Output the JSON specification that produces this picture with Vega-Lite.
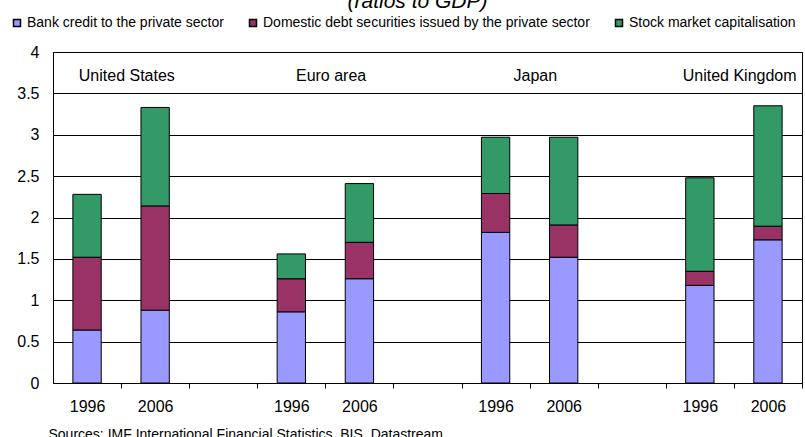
{
  "$schema": "https://vega.github.io/schema/vega-lite/v6.json",
  "width": 749,
  "height": 331,
  "autosize": {"type": "none"},
  "padding": {"left": 53, "top": 52, "right": 3, "bottom": 54},
  "background": "white",
  "config": {
    "font": "Liberation Sans",
    "view": {"stroke": "black", "strokeWidth": 1}
  },
  "title": {
    "text": "(ratios to GDP)",
    "fontStyle": "italic",
    "fontWeight": "normal",
    "fontSize": 21,
    "color": "black",
    "dx": -10
  },
  "layer": [
    {
      "data": {
        "values": [
          {"slot": "US 1996", "series": "Bank credit to the private sector", "k": 0, "value": 0.64},
          {"slot": "US 1996", "series": "Domestic debt securities issued by the private sector", "k": 1, "value": 0.88},
          {"slot": "US 1996", "series": "Stock market capitalisation", "k": 2, "value": 0.76},
          {"slot": "US 2006", "series": "Bank credit to the private sector", "k": 0, "value": 0.88},
          {"slot": "US 2006", "series": "Domestic debt securities issued by the private sector", "k": 1, "value": 1.26},
          {"slot": "US 2006", "series": "Stock market capitalisation", "k": 2, "value": 1.19},
          {"slot": "EA 1996", "series": "Bank credit to the private sector", "k": 0, "value": 0.86},
          {"slot": "EA 1996", "series": "Domestic debt securities issued by the private sector", "k": 1, "value": 0.40},
          {"slot": "EA 1996", "series": "Stock market capitalisation", "k": 2, "value": 0.30},
          {"slot": "EA 2006", "series": "Bank credit to the private sector", "k": 0, "value": 1.26},
          {"slot": "EA 2006", "series": "Domestic debt securities issued by the private sector", "k": 1, "value": 0.44},
          {"slot": "EA 2006", "series": "Stock market capitalisation", "k": 2, "value": 0.71},
          {"slot": "JP 1996", "series": "Bank credit to the private sector", "k": 0, "value": 1.82},
          {"slot": "JP 1996", "series": "Domestic debt securities issued by the private sector", "k": 1, "value": 0.47},
          {"slot": "JP 1996", "series": "Stock market capitalisation", "k": 2, "value": 0.68},
          {"slot": "JP 2006", "series": "Bank credit to the private sector", "k": 0, "value": 1.52},
          {"slot": "JP 2006", "series": "Domestic debt securities issued by the private sector", "k": 1, "value": 0.39},
          {"slot": "JP 2006", "series": "Stock market capitalisation", "k": 2, "value": 1.06},
          {"slot": "UK 1996", "series": "Bank credit to the private sector", "k": 0, "value": 1.18},
          {"slot": "UK 1996", "series": "Domestic debt securities issued by the private sector", "k": 1, "value": 0.17},
          {"slot": "UK 1996", "series": "Stock market capitalisation", "k": 2, "value": 1.13},
          {"slot": "UK 2006", "series": "Bank credit to the private sector", "k": 0, "value": 1.73},
          {"slot": "UK 2006", "series": "Domestic debt securities issued by the private sector", "k": 1, "value": 0.165},
          {"slot": "UK 2006", "series": "Stock market capitalisation", "k": 2, "value": 1.455}
        ]
      },
      "mark": {"type": "bar", "stroke": "black", "strokeWidth": 1},
      "encoding": {
        "x": {
          "field": "slot",
          "type": "nominal",
          "scale": {
            "domain": ["US 1996", "US 2006", "gap1", "EA 1996", "EA 2006", "gap2", "JP 1996", "JP 2006", "gap3", "UK 1996", "UK 2006"],
            "paddingInner": 0.584,
            "paddingOuter": 0.292
          },
          "axis": {
            "labelExpr": "indexof(datum.value, 'gap') >= 0 ? '' : slice(datum.value, -4)",
            "labelFontSize": 16,
            "labelColor": "black",
            "labelAngle": 0,
            "labelPadding": 10,
            "labelOffset": -34,
            "ticks": true,
            "tickSize": 5,
            "tickColor": "black",
            "tickOffset": 34,
            "domain": false,
            "title": "Sources: IMF International Financial Statistics, BIS, Datastream.",
            "titleFontSize": 14,
            "titleFontWeight": "normal",
            "titleColor": "black",
            "titleAnchor": "start",
            "titleAlign": "left",
            "titleX": -5,
            "titleY": 55,
            "titleBaseline": "alphabetic"
          }
        },
        "y": {
          "field": "value",
          "type": "quantitative",
          "scale": {"domain": [0, 4]},
          "axis": {
            "values": [0, 0.5, 1, 1.5, 2, 2.5, 3, 3.5, 4],
            "format": "~g",
            "grid": true,
            "gridColor": "black",
            "gridOpacity": 1,
            "ticks": false,
            "domain": false,
            "labelFontSize": 16,
            "labelColor": "black",
            "labelPadding": 14,
            "title": null
          }
        },
        "color": {
          "field": "series",
          "type": "nominal",
          "scale": {
            "domain": ["Bank credit to the private sector", "Domestic debt securities issued by the private sector", "Stock market capitalisation"],
            "range": ["#9999FF", "#993366", "#339966"]
          },
          "legend": {
            "orient": "none",
            "legendX": -43,
            "legendY": -36,
            "direction": "horizontal",
            "title": null,
            "labelFontSize": 14,
            "labelColor": "black",
            "labelLimit": 500,
            "labelOffset": 3,
            "symbolType": "square",
            "symbolSize": 49,
            "columnPadding": 22
          }
        },
        "order": {"field": "k", "type": "quantitative"}
      }
    },
    {
      "data": {
        "values": [
          {"slot": "US 2006", "label": "United States"},
          {"slot": "EA 2006", "label": "Euro area"},
          {"slot": "JP 2006", "label": "Japan"},
          {"slot": "UK 2006", "label": "United Kingdom"}
        ]
      },
      "mark": {"type": "text", "fontSize": 16, "color": "black"},
      "encoding": {
        "x": {"field": "slot", "type": "nominal", "bandPosition": -0.5},
        "y": {"datum": 3.71},
        "text": {"field": "label"}
      }
    }
  ]
}
